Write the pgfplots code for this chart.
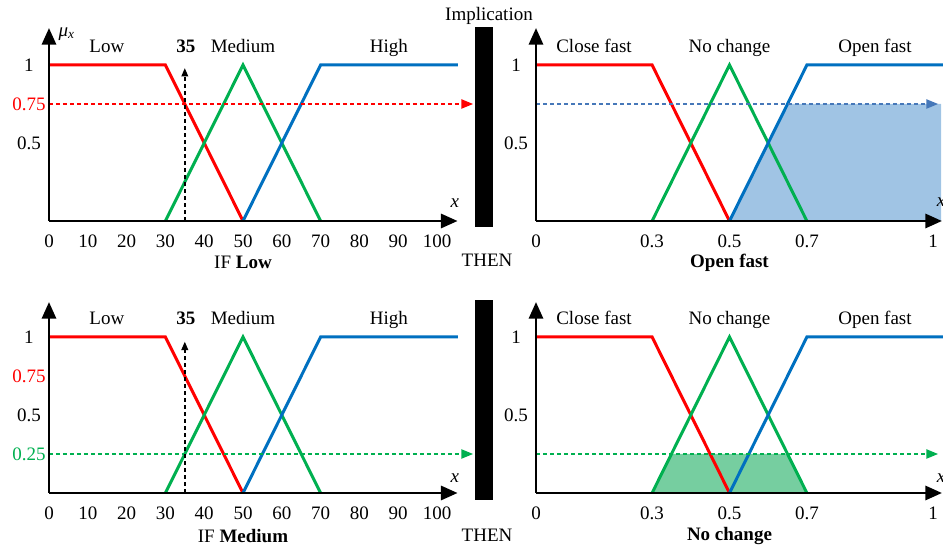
\documentclass[border=0pt]{standalone}
\usepackage{fontspec}
\setmainfont{Liberation Serif}
\usepackage{pgfplots}
\pgfplotsset{compat=1.18}
\usetikzlibrary{arrows.meta}
\definecolor{fred}{RGB}{255,0,0}
\definecolor{fgreen}{RGB}{0,176,80}
\definecolor{fblue}{RGB}{0,112,192}
\definecolor{fillblue}{RGB}{160,196,228}
\definecolor{fillgreen}{RGB}{118,206,160}
\definecolor{dashblue}{RGB}{70,120,185}
\pgfplotsset{
 fz/.style={
   axis x line=bottom, axis y line=left,
   axis line style={line width=1.6pt, -{Triangle[length=10pt,width=8.5pt]}},
   axis on top,
   clip=false,
   anchor=origin,
   ymin=0,
   tick style={draw=none}, major tick length=0pt,
   xticklabel style={yshift=-4.3pt},
   yticklabel style={anchor=center, xshift=-12pt},
   /pgf/number format/assume math mode=true,
 },
 fzL/.style={fz, x=2.328pt, y=93.6pt, xmin=0, xmax=105.3,
   xtick={0,10,...,100}, xticklabels={0,10,20,30,40,50,60,70,80,90,100}},
 fzR/.style={fz, x=232.2pt, y=93.6pt, xmin=0, xmax=1.049,
   xtick={0,0.3,0.5,0.7}, xticklabels={0,0.3,0.5,0.7},
   extra x ticks={1}, extra x tick labels={1},
   extra x tick style={xticklabel style={xshift=6pt}},
   ytick={0.5,1}, yticklabels={0.5,1}},
 mf/.style={line width=1.8pt},
 dsh/.style={line width=0.9pt, dash pattern=on 2.4pt off 1.8pt},
}
\tikzset{lbl/.style={anchor=base}}
\begin{document}
\fontsize{11.4pt}{13.7pt}\selectfont
\begin{tikzpicture}
\path[use as bounding box, clip] (0,0) rectangle (565.8pt,-328.2pt);
% ---------- top left ----------
\begin{axis}[fzL, at={(29.4pt,-132.6pt)}, ymax=1.237,
  ytick={0.5,0.75,1}, yticklabels={0.5,\textcolor{fred}{0.75},1}]
\addplot[fred, mf] coordinates {(0,1) (30,1) (50,0)};
\addplot[fgreen, mf] coordinates {(30,0) (50,1) (70,0)};
\addplot[fblue, mf] coordinates {(50,0) (70,1) (105.4,1)};
\addplot[fred, dsh, -{Triangle[length=7pt,width=5.5pt]}] coordinates {(0,0.75) (109.3,0.75)};
\addplot[black, dsh, -{Triangle[length=5pt,width=4pt]}] coordinates {(35,0) (35,0.98)};
\fill[black] (axis cs:109.8,-0.038) rectangle (axis cs:114.4,1.244);
\node[lbl] at (axis cs:14.9,1.08) {Low};
\node[lbl] at (axis cs:35.3,1.08) {\textbf{35}};
\node[lbl] at (axis cs:50,1.08) {Medium};
\node[lbl] at (axis cs:87.6,1.08) {High};
\node[anchor=west, inner sep=0pt] at (axis cs:2.4,1.2) {\textit{μ}\textsubscript{\textit{x}}};
\node at (axis cs:104.6,0.115) {\textit{x}};
\node at (axis cs:50,-0.263) {IF \textbf{Low}};
\node at (axis cs:112.9,-0.255) {THEN};
\node at (axis cs:113.4,1.314) {Implication};
\end{axis}
% ---------- top right ----------
\begin{axis}[fzR, at={(321.6pt,-132.6pt)}, ymax=1.237]
\addplot[fill=fillblue, draw=none] coordinates {(0.5,0) (0.65,0.75) (1.047,0.75) (1.047,0)} -- cycle;
\addplot[fred, mf] coordinates {(0,1) (0.3,1) (0.5,0)};
\addplot[fgreen, mf] coordinates {(0.3,0) (0.5,1) (0.7,0)};
\addplot[fblue, mf] coordinates {(0.5,0) (0.7,1) (1.055,1)};
\addplot[dashblue, dsh, -{Triangle[length=7pt,width=5.5pt]}] coordinates {(0,0.75) (1.039,0.75)};
\node[lbl] at (axis cs:0.15,1.08) {Close fast};
\node[lbl] at (axis cs:0.5,1.08) {No change};
\node[lbl] at (axis cs:0.876,1.08) {Open fast};
\node at (axis cs:0.5,-0.265) {\textbf{Open fast}};
\node at (axis cs:1.047,0.12) {\textit{x}};
\end{axis}
% ---------- bottom left ----------
\begin{axis}[fzL, at={(29.4pt,-295.8pt)}, ymax=1.224,
  ytick={0.25,0.5,0.75,1}, yticklabels={\textcolor{fgreen}{0.25},0.5,\textcolor{fred}{0.75},1}]
\addplot[fred, mf] coordinates {(0,1) (30,1) (50,0)};
\addplot[fgreen, mf] coordinates {(30,0) (50,1) (70,0)};
\addplot[fblue, mf] coordinates {(50,0) (70,1) (105.4,1)};
\addplot[fgreen, dsh, -{Triangle[length=7pt,width=5.5pt]}] coordinates {(0,0.25) (109.3,0.25)};
\addplot[black, dsh, -{Triangle[length=5pt,width=4pt]}] coordinates {(35,0) (35,0.97)};
\fill[black] (axis cs:109.8,-0.045) rectangle (axis cs:114.4,1.237);
\node[lbl] at (axis cs:14.9,1.077) {Low};
\node[lbl] at (axis cs:35.3,1.077) {\textbf{35}};
\node[lbl] at (axis cs:50,1.077) {Medium};
\node[lbl] at (axis cs:87.6,1.077) {High};
\node at (axis cs:104.6,0.096) {\textit{x}};
\node at (axis cs:50,-0.275) {IF \textbf{Medium}};
\node at (axis cs:112.9,-0.27) {THEN};
\end{axis}
% ---------- bottom right ----------
\begin{axis}[fzR, at={(321.6pt,-295.8pt)}, ymax=1.224]
\addplot[fill=fillgreen, draw=none] coordinates {(0.3,0) (0.35,0.25) (0.65,0.25) (0.7,0)} -- cycle;
\addplot[fred, mf] coordinates {(0,1) (0.3,1) (0.5,0)};
\addplot[fgreen, mf] coordinates {(0.3,0) (0.5,1) (0.7,0)};
\addplot[fblue, mf] coordinates {(0.5,0) (0.7,1) (1.055,1)};
\addplot[fgreen, dsh, -{Triangle[length=7pt,width=5.5pt]}] coordinates {(0,0.25) (1.039,0.25)};
\node[lbl] at (axis cs:0.15,1.077) {Close fast};
\node[lbl] at (axis cs:0.5,1.077) {No change};
\node[lbl] at (axis cs:0.876,1.077) {Open fast};
\node at (axis cs:0.5,-0.275) {\textbf{No change}};
\node at (axis cs:1.047,0.096) {\textit{x}};
\end{axis}
\end{tikzpicture}
\end{document}
